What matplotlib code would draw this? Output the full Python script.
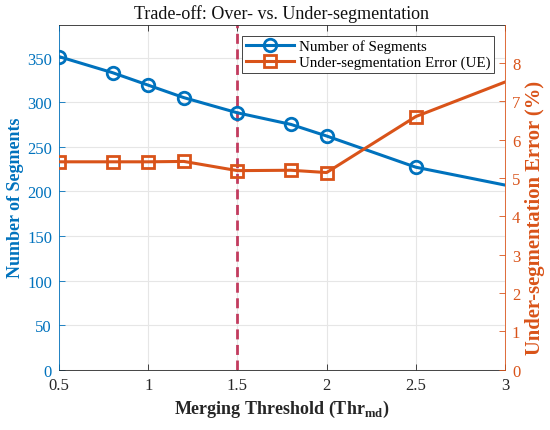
import matplotlib
matplotlib.use("Agg")
import matplotlib.pyplot as plt

thr = [0.5, 0.8, 1.0, 1.2, 1.5, 1.8, 2.0, 2.5, 3.5]
num_segments = [351, 333, 319, 305, 288, 275, 262, 227, 187]
ue_percent = [5.42, 5.42, 5.42, 5.43, 5.19, 5.20, 5.14, 6.60, 8.40]
x_ticks = [0.5, 1, 1.5, 2, 2.5, 3]
x_ticklabels = ["0.5", "1", "1.5", "2", "2.5", "3"]
left_ticks = [0, 50, 100, 150, 200, 250, 300, 350]
right_ticks = [0, 1, 2, 3, 4, 5, 6, 7, 8]
chosen_thr = 1.5

plt.rcParams['font.family'] = ['Liberation Serif', 'DejaVu Serif']
plt.rcParams['mathtext.fontset'] = 'custom'
plt.rcParams['mathtext.rm'] = 'Liberation Serif'
plt.rcParams['mathtext.bf'] = 'Liberation Serif:bold'

blue = '#0072BD'
orange = '#D95319'

fig = plt.figure(figsize=(5.5, 4.31), dpi=100)
ax = fig.add_axes([59/550, 1-370.7/431, (505-59)/550, (370.7-25.5)/431])
ax2 = ax.twinx()

ax.set_xlim(0.5, 3)
ax.set_ylim(0, 387)
ax2.set_ylim(0, 9)

ax.grid(True, color='#e6e6e6', linewidth=0.8)
ax.set_axisbelow(True)

l1, = ax.plot(thr, num_segments, '-o', color=blue, linewidth=2.2, markersize=9,
              markerfacecolor='none', markeredgewidth=2, label='Number of Segments', zorder=3)
l2, = ax2.plot(thr, ue_percent, '-s', color=orange, linewidth=2.2, markersize=8,
               markerfacecolor='none', markeredgewidth=2, label='Under-segmentation Error (UE)', zorder=3)
ax.axvline(chosen_thr, color='#C23B5E', linestyle=(0, (3.6, 2.0)), linewidth=2, zorder=2)

ax.set_xticks(x_ticks)
ax.set_xticklabels(x_ticklabels)
ax.set_yticks(left_ticks)
ax2.set_yticks(right_ticks)

for a in (ax, ax2):
    a.tick_params(direction='in', length=4, width=0.6, labelsize=12)
ax.tick_params(axis='x', top=True, colors='#262626', labelcolor='#262626', pad=5)
ax.tick_params(axis='y', colors=blue, labelcolor=blue, pad=5)
ax2.tick_params(axis='y', colors=orange, labelcolor=orange, pad=5)

ax.spines['left'].set_color(blue)
ax.spines['right'].set_visible(False)
ax.spines['top'].set_color('#262626')
ax.spines['bottom'].set_color('#262626')
ax2.spines['right'].set_color(orange)
ax2.spines['left'].set_visible(False)
ax2.spines['top'].set_visible(False)
ax2.spines['bottom'].set_visible(False)
for s in ax.spines.values():
    s.set_linewidth(0.6)
ax2.spines['right'].set_linewidth(0.6)

ax.set_xlabel(r'Merging Threshold (Thr$_{\mathbf{md}}$)', fontsize=13, fontweight='bold',
              color='#262626', labelpad=4)
ax.set_ylabel('Number of Segments', fontsize=13, fontweight='bold', color=blue)
ax.yaxis.set_label_coords(-0.078, 0.5)
ax2.set_ylabel('Under-segmentation Error (%)', fontsize=14.9, fontweight='bold', color=orange)
ax2.yaxis.set_label_coords(1.045, 0.442)
ax.set_title('Trade-off: Over- vs. Under-segmentation', fontsize=13, color='#111111', pad=5)

leg = ax2.legend([l1, l2], ['Number of Segments', 'Under-segmentation Error (UE)'],
                 loc='upper right', bbox_to_anchor=(0.975, 0.967), fontsize=10.8,
                 frameon=True, fancybox=False, edgecolor='#262626', framealpha=1,
                 handlelength=3.2, handletextpad=0.3, borderpad=0.25, labelspacing=0.15,
                 borderaxespad=0)
leg.get_frame().set_linewidth(0.6)

fig.savefig('out.png', dpi=100)
